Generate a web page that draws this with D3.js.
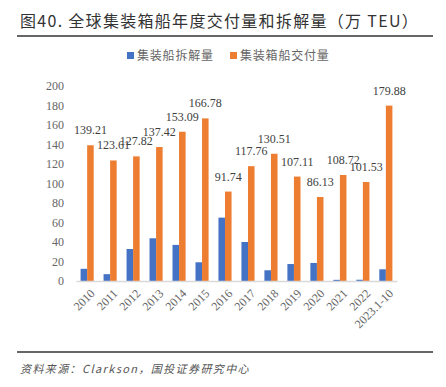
<!DOCTYPE html>
<html>
<head>
<meta charset="utf-8">
<script src="https://cdn.jsdelivr.net/npm/d3@7"></script>
<style>
  body { margin: 0; background: #fff; }
  svg { display: block; }
</style>
</head>
<body>
<script>
const WIDTH = 446;
const HEIGHT = 387;
const MARGIN = {left: 76, right: 49, top: 86, bottom: 106};

// data
const years = ["2010", "2011", "2012", "2013", "2014", "2015", "2016", "2017",
               "2018", "2019", "2020", "2021", "2022", "2023.1-10"];
const demolition = [12.5, 7, 32.8, 43.8, 37, 19.2, 65, 40, 11, 17.4, 18.5, 1.2, 1.3, 12];
const delivery = [139.21, 123.61, 127.82, 137.42, 153.09, 166.78, 91.74, 117.76,
                  130.51, 107.11, 86.13, 108.72, 101.53, 179.88];
const yTicks = [0, 20, 40, 60, 80, 100, 120, 140, 160, 180, 200];
const seriesNames = ["集装船拆解量", "集装箱船交付量"];
const colors = ["#4472C4", "#ED7D31"];

const cjk = "'Noto Sans CJK SC', 'Noto Sans', sans-serif";
const serif = "'Liberation Serif', 'DejaVu Serif', serif";

let svg = d3.select("body").append("svg")
    .attr("width", WIDTH)
    .attr("height", HEIGHT);

// title + rule
svg.append("text")
    .attr("x", 20).attr("y", 27)
    .style("font-family", cjk)
    .style("font-size", "16px")
    .style("letter-spacing", "1.3px")
    .style("fill", "#333")
    .text("图40. 全球集装箱船年度交付量和拆解量（万 TEU）");
svg.append("line")
    .attr("x1", 17).attr("x2", 433).attr("y1", 36).attr("y2", 36)
    .attr("stroke", "#333").attr("stroke-width", 1.5);

// footer
svg.append("line")
    .attr("x1", 17).attr("x2", 433).attr("y1", 352).attr("y2", 352)
    .attr("stroke", "#333").attr("stroke-width", 1.5);
svg.append("text")
    .attr("x", 20).attr("y", 373)
    .style("font-family", cjk)
    .style("font-size", "11px")
    .style("font-style", "italic")
    .style("letter-spacing", "1.4px")
    .style("fill", "#555")
    .text("资料来源：Clarkson，国投证券研究中心");

// scales
let xscale = d3.scaleBand()
    .domain(years)
    .range([MARGIN.left, WIDTH - MARGIN.right])
    .paddingInner(0.43)
    .paddingOuter(0.2);

let xsub = d3.scaleBand()
    .domain([0, 1])
    .range([0, xscale.bandwidth()]);

let yscale = d3.scaleLinear()
    .domain([0, 200])
    .range([HEIGHT - MARGIN.bottom, MARGIN.top]);

// y axis (labels only)
let yAxis = svg.append("g")
    .attr("transform", "translate(" + (MARGIN.left - 2) + ",0)")
    .call(d3.axisLeft(yscale).tickValues(yTicks).tickSize(0).tickPadding(10));
yAxis.select(".domain").remove();
yAxis.selectAll("text")
    .style("font-family", serif)
    .style("font-size", "12px")
    .style("fill", "#666");

// bars
let series = [demolition, delivery];
series.forEach((vals, si) => {
    svg.append("g").selectAll("rect")
        .data(vals)
        .join("rect")
        .attr("x", (d, i) => xscale(years[i]) + xsub(si))
        .attr("width", xsub.bandwidth())
        .attr("y", d => yscale(d))
        .attr("height", d => yscale(0) - yscale(d))
        .attr("fill", colors[si]);
});

// data labels on delivery
svg.append("g").selectAll("text")
    .data(delivery)
    .join("text")
    .attr("x", (d, i) => xscale(years[i]) + xsub(1) + xsub.bandwidth() / 2)
    .attr("y", d => yscale(d) - 11)
    .attr("text-anchor", "middle")
    .style("font-family", serif)
    .style("font-size", "12px")
    .style("fill", "#404040")
    .text(d => d.toFixed(2));

// x axis
let xAxis = svg.append("g")
    .attr("transform", "translate(0," + yscale(0) + ")")
    .call(d3.axisBottom(xscale).tickSize(0).tickPadding(0));
xAxis.select(".domain")
    .attr("stroke", "#d9d9d9").attr("stroke-width", 1.5);
xAxis.selectAll("text")
    .attr("transform", "translate(4,9) rotate(-45)")
    .attr("text-anchor", "end")
    .attr("dy", "0.5em")
    .style("font-family", serif)
    .style("font-size", "12px")
    .style("fill", "#666");

// legend
let legend = svg.append("g");
const legendX = [127, 230];
seriesNames.forEach((name, i) => {
    legend.append("rect")
        .attr("x", legendX[i]).attr("y", 52)
        .attr("width", 7).attr("height", 7)
        .attr("fill", colors[i]);
    legend.append("text")
        .attr("x", legendX[i] + 10).attr("y", 60)
        .style("font-family", cjk)
        .style("font-size", "12px")
        .style("letter-spacing", "0.8px")
        .style("fill", "#666")
        .text(name);
});
</script>
</body>
</html>
